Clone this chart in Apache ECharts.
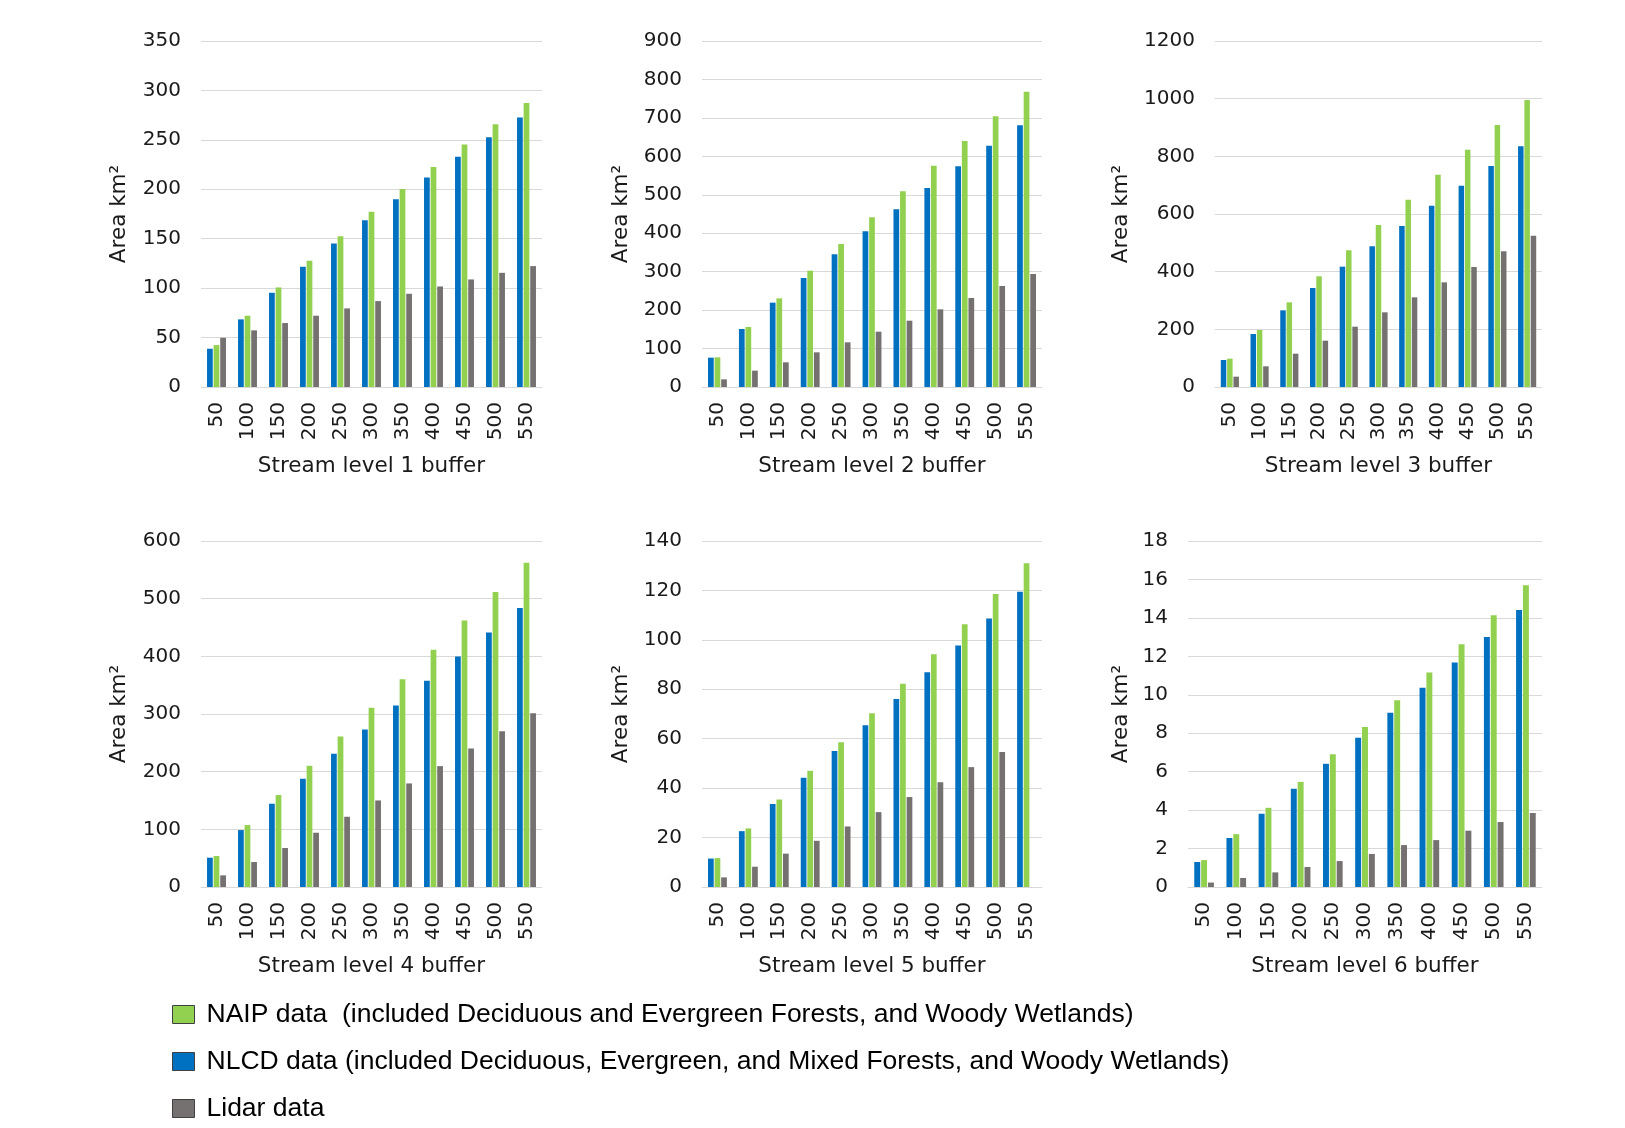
<!DOCTYPE html>
<html>
<head>
<meta charset="utf-8">
<script src="https://cdn.jsdelivr.net/npm/echarts@6/dist/echarts.min.js"></script>
<style>
  html, body { margin: 0; padding: 0; background: #fff; }
  #chart { width: 1625px; height: 1128px; }
</style>
</head>
<body>
<div id="chart"></div>
<script>
(function () {
  var buffers = ['50', '100', '150', '200', '250', '300', '350', '400', '450', '500', '550'];

  var nlcdL1 = [38.7, 68.4, 95.3, 121.6, 145.2, 168.7, 190, 211.9, 233, 252.6, 272.5];
  var naipL1 = [42.4, 72.1, 100.7, 127.7, 152.6, 177.2, 200.4, 222.6, 245.2, 265.7, 287.3];
  var lidarL1 = [49.8, 57.3, 64.7, 72.1, 79.5, 86.9, 94.3, 101.7, 108.8, 115.5, 122.3];

  var nlcdL2 = [76.3, 150.9, 219.4, 283.5, 345.1, 404.9, 462.2, 517.6, 574, 627.8, 680.7];
  var naipL2 = [77.2, 156, 230.6, 302.6, 372, 441.3, 509, 575.7, 639.9, 704, 768.2];
  var lidarL2 = [19.9, 42.5, 64.2, 90.2, 116.2, 143.9, 172.5, 202, 231.5, 262.7, 293.9];

  var nlcdL3 = [93.6, 183.8, 265.9, 343.4, 417.3, 487.9, 558.4, 628.9, 698.3, 766.5, 834.7];
  var naipL3 = [98.3, 197.7, 293.6, 383.8, 474, 561.8, 649.7, 736.4, 823.1, 908.7, 995.4];
  var lidarL3 = [35.8, 71.7, 115.6, 160.7, 209.2, 259, 311, 363, 416.2, 470.5, 524.9];

  var nlcdL4 = [50.8, 98.7, 144.4, 187.7, 231, 273.1, 314.7, 357.5, 399.6, 441.2, 483.9];
  var naipL4 = [53.7, 107.4, 159.4, 210.2, 261, 310.7, 360.3, 411.2, 462, 511.6, 562.5];
  var lidarL4 = [20.2, 43.3, 67.6, 94.1, 121.8, 150.1, 179.6, 209.6, 240.2, 270.3, 301.4];

  var nlcdL5 = [11.5, 22.6, 33.6, 44.2, 55, 65.4, 76.1, 86.9, 97.7, 108.6, 119.5];
  var naipL5 = [11.7, 23.7, 35.4, 47, 58.6, 70.3, 82.2, 94.2, 106.3, 118.6, 131];
  var lidarL5 = [3.9, 8.2, 13.5, 18.7, 24.5, 30.3, 36.4, 42.4, 48.5, 54.6, null];

  var nlcdL6 = [1.3, 2.55, 3.81, 5.11, 6.41, 7.76, 9.06, 10.36, 11.68, 13.01, 14.41];
  var naipL6 = [1.4, 2.75, 4.12, 5.47, 6.9, 8.32, 9.72, 11.16, 12.63, 14.14, 15.7];
  var lidarL6 = [0.23, 0.47, 0.76, 1.04, 1.35, 1.72, 2.18, 2.44, 2.93, 3.38, 3.85];

  var yMax = [350, 900, 1200, 600, 140, 18];
  var yStep = [50, 100, 200, 100, 20, 2];
  var levelNames = ['Stream level 1 buffer', 'Stream level 2 buffer', 'Stream level 3 buffer',
    'Stream level 4 buffer', 'Stream level 5 buffer', 'Stream level 6 buffer'];
  var legendLabels = {
    NAIP: 'NAIP data  (included Deciduous and Evergreen Forests, and Woody Wetlands)',
    NLCD: 'NLCD data (included Deciduous, Evergreen, and Mixed Forests, and Woody Wetlands)',
    Lidar: 'Lidar data'
  };

  var nlcd = [nlcdL1, nlcdL2, nlcdL3, nlcdL4, nlcdL5, nlcdL6];
  var naip = [naipL1, naipL2, naipL3, naipL4, naipL5, naipL6];
  var lidar = [lidarL1, lidarL2, lidarL3, lidarL4, lidarL5, lidarL6];

  // panel boxes in page pixels
  var boxes = [
    { left: 201, top: 41, width: 341, height: 346, nameGap: 71 },
    { left: 702, top: 41, width: 340, height: 346, nameGap: 70 },
    { left: 1215, top: 41, width: 327, height: 346, nameGap: 83 },
    { left: 201, top: 541, width: 341, height: 346, nameGap: 71 },
    { left: 702, top: 541, width: 340, height: 346, nameGap: 70 },
    { left: 1188, top: 541, width: 354, height: 346, nameGap: 56 }
  ];

  var font = 'DejaVu Sans';
  var textColor = '#1a1a1a';
  var gridColor = '#d9d9d9';
  var colors = { NLCD: '#0070c0', NAIP: '#92d050', Lidar: '#767171' };

  var grids = [], xAxes = [], yAxes = [], series = [];

  boxes.forEach(function (box, i) {
    grids.push({ left: box.left, top: box.top, width: box.width, height: box.height });

    xAxes.push({
      type: 'category',
      gridIndex: i,
      data: buffers,
      name: levelNames[i],
      nameLocation: 'middle',
      nameGap: 68,
      nameTextStyle: { color: textColor, fontFamily: font, fontSize: 21.5 },
      axisLine: { lineStyle: { color: gridColor, width: 1 } },
      axisTick: { show: false },
      axisLabel: {
        interval: 0,
        rotate: 90,
        margin: 15,
        color: textColor,
        fontFamily: font,
        fontSize: 20
      }
    });

    yAxes.push({
      type: 'value',
      gridIndex: i,
      min: 0,
      max: yMax[i],
      interval: yStep[i],
      name: 'Area km\u00b2',
      nameLocation: 'middle',
      nameGap: box.nameGap,
      nameTextStyle: { color: textColor, fontFamily: font, fontSize: 21.5 },
      axisLine: { show: false },
      axisTick: { show: false },
      axisLabel: {
        margin: 20,
        color: textColor,
        fontFamily: font,
        fontSize: 20,
        formatter: function (v) { return String(v); }
      },
      splitLine: { lineStyle: { color: gridColor, width: 1 } }
    });

    [['NLCD', nlcd[i]], ['NAIP', naip[i]], ['Lidar', lidar[i]]].forEach(function (pair) {
      series.push({
        name: pair[0],
        type: 'bar',
        xAxisIndex: i,
        yAxisIndex: i,
        data: pair[1],
        barWidth: '18.5%',
        barGap: '15%',
        itemStyle: { color: colors[pair[0]] },
        emphasis: { disabled: true }
      });
    });
  });

  var chart = echarts.init(document.getElementById('chart'));
  chart.setOption({
    animation: false,
    backgroundColor: '#ffffff',
    legend: {
      orient: 'vertical',
      left: 167,
      top: 996,
      itemWidth: 22,
      itemHeight: 18,
      itemGap: 20,
      icon: 'rect',
      data: ['NAIP', 'NLCD', 'Lidar'],
      itemStyle: { borderColor: '#404040', borderWidth: 1 },
      formatter: function (name) { return legendLabels[name]; },
      textStyle: {
        color: '#000',
        fontFamily: 'Liberation Sans',
        fontSize: 26.5,
        lineHeight: 27,
        padding: [0, 0, 0, 7]
      }
    },
    grid: grids,
    xAxis: xAxes,
    yAxis: yAxes,
    series: series
  });
})();
</script>
</body>
</html>
